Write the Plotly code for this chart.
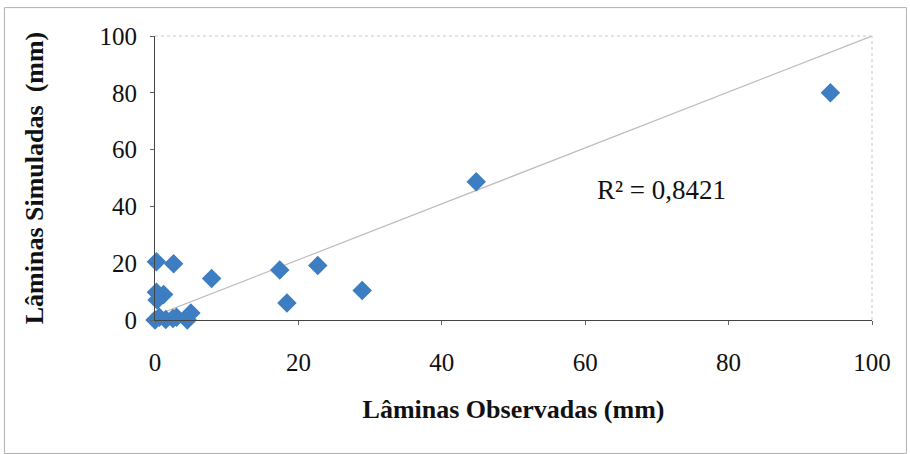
import plotly.graph_objects as go

# Observed vs simulated depths (mm)
obs = [94.2, 44.8, 22.7, 17.4, 18.4, 28.9, 7.9, 2.6, 0.2, 0.2, 1.2, 0.3, 0.0, 0.6, 1.5, 2.5, 4.5, 5.0, 3.0]
sim = [80.0, 48.7, 19.2, 17.6, 6.0, 10.4, 14.6, 19.8, 20.5, 9.8, 9.0, 7.0, 0.0, 1.0, 0.2, 0.5, 0.0, 2.5, 1.0]

trend_x = [0, 100]
trend_y = [1.5, 100]

tick_vals = [0, 20, 40, 60, 80, 100]
r2_text = "R² = 0,8421"
r2_pos = (70.7, 45.8)

font_family = "Liberation Serif, Times New Roman, serif"

fig = go.Figure()
fig.add_trace(go.Scatter(
    x=trend_x, y=trend_y, mode="lines",
    line=dict(color="#BDBDBD", width=1.2), hoverinfo="skip", showlegend=False,
    cliponaxis=False,
))
fig.add_trace(go.Scatter(
    x=obs, y=sim, mode="markers",
    marker=dict(symbol="diamond", size=15, color="#3D7DC1", line=dict(width=0)),
    showlegend=False, cliponaxis=False,
))

fig.add_annotation(x=r2_pos[0], y=r2_pos[1], text=r2_text, showarrow=False,
                   font=dict(family=font_family, size=27, color="#111"))

axis_common = dict(
    range=[0, 100], tickvals=tick_vals, showgrid=False, zeroline=False,
    showline=True, linecolor="#444", linewidth=1.2,
    ticks="outside", ticklen=4, tickcolor="#666", automargin=False,
    tickfont=dict(family=font_family, size=25, color="#111"),
)
fig.update_xaxes(**axis_common, ticklabelstandoff=16,
                 title=dict(text="<b>Lâminas Observadas (mm)</b>", standoff=24,
                            font=dict(family=font_family, size=26, color="#111")))
fig.update_yaxes(**axis_common, ticklabelstandoff=8,
                 title=dict(text="<b>Lâminas Simuladas  (mm)</b>", standoff=48,
                            font=dict(family=font_family, size=26, color="#111")))

# faint top/right plot borders
fig.add_shape(type="line", xref="paper", yref="paper", x0=0, x1=1, y0=1, y1=1,
              line=dict(color="#C8C8C8", width=1, dash="dot"))
fig.add_shape(type="line", xref="paper", yref="paper", x0=1, x1=1, y0=0, y1=1,
              line=dict(color="#C8C8C8", width=1, dash="dot"))
# outer chart frame
fig.add_shape(type="rect", xref="paper", yref="paper",
              x0=-0.210, x1=1.048, y0=-0.47, y1=1.10,
              line=dict(color="#B0B0B0", width=1))

fig.update_layout(
    width=910, height=454,
    margin=dict(l=155, r=38, t=36, b=134),
    paper_bgcolor="white", plot_bgcolor="white",
    font=dict(family=font_family),
)

fig.write_html("out.html")
